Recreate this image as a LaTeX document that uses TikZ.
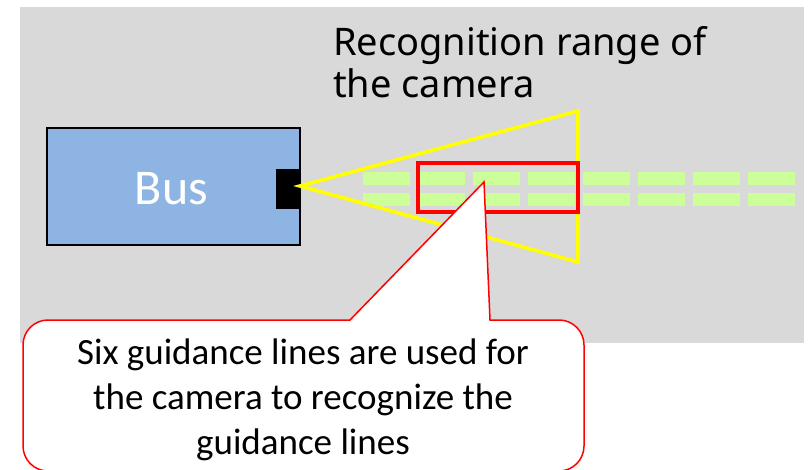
\documentclass[tikz,border=0pt]{standalone}
\usepackage{fontspec}
\setmainfont{Carlito}
\newfontfamily\titlefont{Noto Sans}
\definecolor{bggray}{HTML}{D9D9D9}
\definecolor{busblue}{HTML}{8EB4E3}
\definecolor{dashgreen}{HTML}{CCFF99}
\definecolor{camyellow}{HTML}{FFFF00}
\definecolor{alertred}{HTML}{FF0000}
\tikzset{
  busbox/.style={draw=black, line width=1.5pt, fill=busblue, minimum width=253pt, minimum height=117pt, inner sep=0pt},
  cambox/.style={fill=black, minimum width=24pt, minimum height=40pt, inner sep=0pt},
  viewcone/.style={draw=camyellow, line width=3.6pt, line join=miter},
  focusbox/.style={draw=alertred, line width=4pt},
  guidedash/.style={fill=dashgreen},
  calloutshape/.style={draw=alertred, line width=1.5pt, fill=white},
}
\begin{document}
\begin{tikzpicture}[x=1pt, y=-1pt]
\useasboundingbox (0,0) rectangle (808,470);
\fill[bggray] (20,7) rectangle (804,343);
% bus
\node[busbox] (bus) at (173.5,186.5) {};
\node[anchor=base, text=white, font=\fontsize{50}{60}\selectfont, inner sep=0pt] (buslabel) at (171.5,205) {Bus};
\node[cambox] (cam) at (288,189) {};
% title
\node[anchor=north west, align=left, inner sep=0pt, font=\titlefont\fontsize{38}{42}\selectfont] (title) at (333,26.5) {Recognition range of\\the camera};
% guidance dashes
\foreach \i in {0,...,7} {
  \fill[guidedash] ({363+55*\i},172) rectangle ({410+55*\i},185);
  \fill[guidedash] ({363+55*\i},193) rectangle ({410+55*\i},206);
}
% camera view cone
\coordinate (apex) at (300,186);
\coordinate (conetop) at (578,111);
\coordinate (conebot) at (578,262);
\draw[viewcone] (apex) -- (conetop) -- (conebot) -- cycle;
% focus box
\node[focusbox, minimum width=160pt, minimum height=49pt, inner sep=0pt] (focus) at (498,187.5) {};
% callout
\coordinate (tip) at (484,182);
\draw[calloutshape] (tip) -- (490,320) [rounded corners=25pt] -- (584,320) -- (584,471) -- (23,471) -- (23,320) [sharp corners] -- (350,320) -- cycle;
\node[anchor=north, align=center, inner sep=0pt, font=\fontsize{37}{45}\selectfont] (note) at (303,339) {Six guidance lines are used for\\the camera to recognize the\\guidance lines};
\end{tikzpicture}
\end{document}
